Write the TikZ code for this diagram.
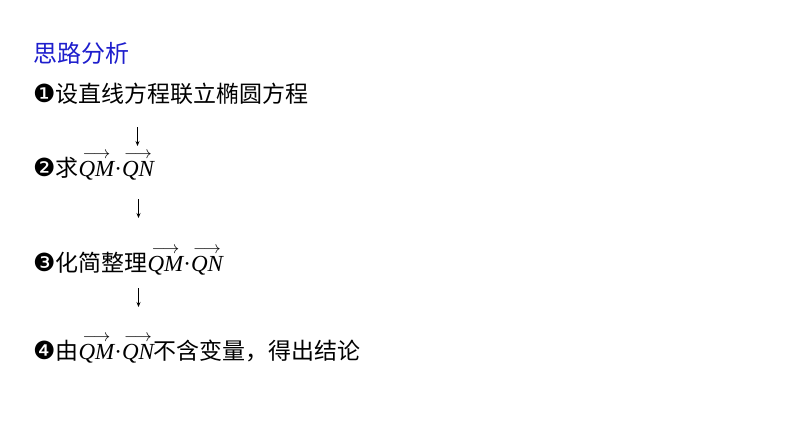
\documentclass[tikz,border=0pt]{standalone}
\usepackage{amsmath}
\usepackage{fontspec}
\usetikzlibrary{arrows.meta}
\newfontfamily\cjk{Noto Sans CJK SC}
\newfontfamily\dvs{DejaVu Sans}
\newfontfamily\tms{Liberation Serif}
\definecolor{titleblue}{RGB}{30,30,205}
\tikzset{
  txt/.style={anchor=base west, inner sep=0pt, font=\fontsize{23}{28}\selectfont\cjk},
  flow/.style={-{Stealth[length=5pt,width=4pt]}, line width=0.7pt},
}
\newcommand{\vv}[1]{\ensuremath{\overset{\raisebox{-5pt}{$\scriptstyle\longrightarrow$}}{\text{\tms\itshape #1}}}}
\newcommand{\qv}{\vv{QM}{\tms·}\vv{QN}}
\newcommand{\cn}[1]{{\dvs\fontsize{25}{28}\selectfont #1}}
\begin{document}
\begin{tikzpicture}[x=1pt,y=-1pt]
\useasboundingbox[fill=white] (0,0) rectangle (794,447);
\node[txt, text=titleblue, font=\fontsize{24}{28}\selectfont\cjk] (title) at (33,62) {思路分析};
\node[txt] (s1) at (33,102) {\cn{❶}设直线方程联立椭圆方程};
\node[txt] (s2) at (33,176) {\cn{❷}求\qv};
\node[txt] (s3) at (33,271) {\cn{❸}化简整理\qv};
\node[txt] (s4) at (33,359) {\cn{❹}由\qv 不含变量，得出结论};
\coordinate (a1s) at (137.5,127);
\coordinate (a1e) at (137.5,146);
\coordinate (a2s) at (138.5,199);
\coordinate (a2e) at (138.5,218);
\coordinate (a3s) at (138.5,288);
\coordinate (a3e) at (138.5,307);
\draw[flow] (a1s) -- (a1e);
\draw[flow] (a2s) -- (a2e);
\draw[flow] (a3s) -- (a3e);
\end{tikzpicture}
\end{document}
